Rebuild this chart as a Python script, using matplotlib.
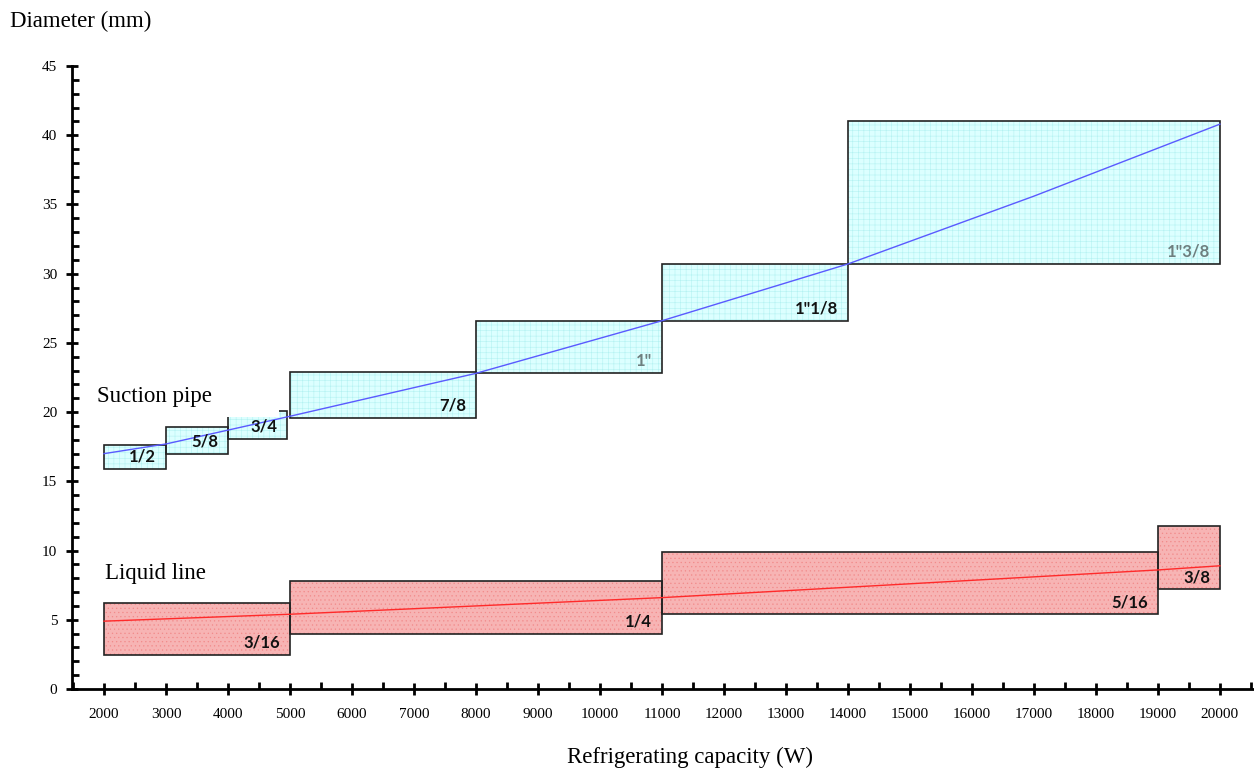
import matplotlib.pyplot as plt
from matplotlib.patches import Rectangle
from matplotlib.ticker import MultipleLocator

# suction pipe boxes: capacity range (W), diameter range (mm), size label
suc_x0 = [2000, 3000, 4000, 5000, 8000, 11000, 14000]
suc_x1 = [3000, 4000, 4950, 8000, 11000, 14000, 20000]
suc_y0 = [15.9, 17.0, 18.05, 19.6, 22.8, 26.6, 30.7]
suc_y1 = [17.6, 18.9, 20.1, 22.9, 26.6, 30.7, 41.0]
suc_lab = ['1/2', '5/8', '3/4', '7/8', '1"', '1"1/8', '1"3/8']
suc_gray = [False, False, False, False, True, False, True]

# liquid line boxes
liq_x0 = [2000, 5000, 11000, 19000]
liq_x1 = [5000, 11000, 19000, 20000]
liq_y0 = [2.45, 4.0, 5.4, 7.2]
liq_y1 = [6.2, 7.8, 9.9, 11.8]
liq_lab = ['3/16', '1/4', '5/16', '3/8']

# required diameter curves
suc_cap = [2000, 3000, 4000, 5000, 8000, 11000, 14000, 17000, 20000]
suc_dia = [17.0, 17.7, 18.7, 19.7, 22.8, 26.6, 30.7, 35.6, 40.8]
liq_cap = [2000, 5000, 8000, 11000, 15000, 19000, 20000]
liq_dia = [4.9, 5.4, 6.0, 6.6, 7.6, 8.6, 8.9]

plt.rcParams['font.family'] = ['Liberation Serif', 'DejaVu Serif']
plt.rcParams['hatch.linewidth'] = 0.4

fig = plt.figure(figsize=(12.54, 7.68), dpi=100)
ax = fig.add_axes((72 / 1254, 1 - 689 / 768, 1 - 72 / 1254, 623 / 768))
ax.set_xlim(1484, 20550)
ax.set_ylim(0, 45)

lab_font = ['Lato', 'DejaVu Sans']

# suction boxes
for x0, x1, y0, y1, lab, gray in zip(suc_x0, suc_x1, suc_y0, suc_y1, suc_lab, suc_gray):
    ax.add_patch(Rectangle((x0, y0), x1 - x0, y1 - y0, facecolor='#dcffff',
                           edgecolor='#b4f2f2', hatch='+++', lw=0, zorder=1))
    ax.add_patch(Rectangle((x0, y0), x1 - x0, y1 - y0, fill=False,
                           edgecolor='#222222', lw=1.2, zorder=2))
    ax.annotate(lab, (x1, y0), xytext=(-7, 3), textcoords='offset points',
                ha='right', va='bottom', fontsize=12, fontweight='bold',
                family=lab_font, color='#6e7f7f' if gray else '#111111', zorder=4)

# liquid boxes
for x0, x1, y0, y1, lab in zip(liq_x0, liq_x1, liq_y0, liq_y1, liq_lab):
    ax.add_patch(Rectangle((x0, y0), x1 - x0, y1 - y0, facecolor='#f7b4b4',
                           edgecolor='#f28a8a', hatch='....', lw=0, zorder=1))
    ax.add_patch(Rectangle((x0, y0), x1 - x0, y1 - y0, fill=False,
                           edgecolor='#222222', lw=1.2, zorder=2))
    ax.annotate(lab, (x1, y0), xytext=(-7, 3), textcoords='offset points',
                ha='right', va='bottom', fontsize=12, fontweight='bold',
                family=lab_font, color='#111111', zorder=4)

ax.plot(suc_cap, suc_dia, color='#5a5aff', lw=1.0, zorder=3)
ax.plot(liq_cap, liq_dia, color='#ff2a2a', lw=1.0, zorder=3)

# white background behind the "Suction pipe" label (hides top of the 3/4 box)
ax.add_patch(Rectangle((1900, 19.62), 4820 - 1900, 3.0, facecolor='white',
                       edgecolor='none', zorder=4.5))
ax.text(1890, 21.15, 'Suction pipe', fontsize=16.5, ha='left', va='center', zorder=5)
ax.text(2010, 8.35, 'Liquid line', fontsize=16.5, ha='left', va='center', zorder=5)

# axes styling
for s in ['top', 'right']:
    ax.spines[s].set_visible(False)
ax.spines['left'].set_linewidth(2)
ax.spines['bottom'].set_linewidth(2)
ax.xaxis.set_minor_locator(MultipleLocator(500))
ax.yaxis.set_major_locator(MultipleLocator(5))
ax.yaxis.set_minor_locator(MultipleLocator(1))
ax.set_xticks(range(2000, 20001, 1000))
ax.tick_params(which='major', direction='inout', length=9, width=2, labelsize=11)
ax.tick_params(which='minor', direction='in', length=5, width=2)
ax.tick_params(axis='x', which='major', pad=9)
ax.tick_params(axis='y', which='major', pad=6)

fig.text(10 / 1254, 1 - 21 / 768, 'Diameter (mm)', fontsize=16.5, ha='left', va='center')
fig.text(690 / 1254, 1 - 757 / 768, 'Refrigerating capacity (W)', fontsize=16.5,
         ha='center', va='center')

fig.savefig('out.png', dpi=100)
